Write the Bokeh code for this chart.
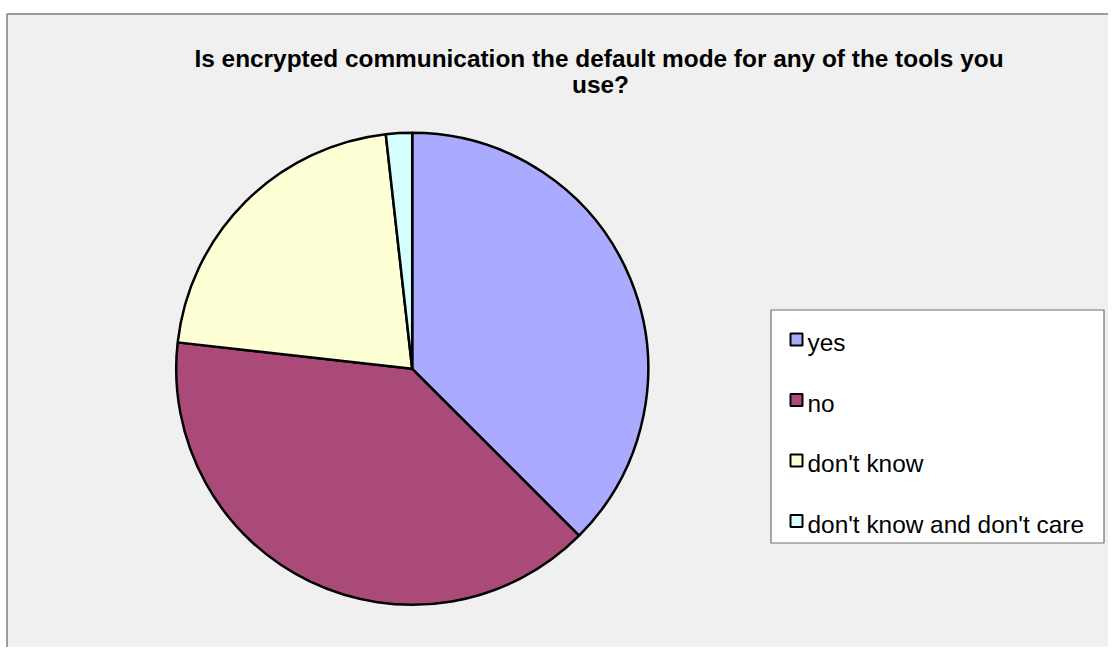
import numpy as np
from bokeh.plotting import figure
from bokeh.models import Range1d, ColumnDataSource
from bokeh.core.properties import value
from bokeh.embed import file_html
from bokeh.resources import INLINE

# ---- data ----
categories = ["yes", "no", "don't know", "don't know and don't care"]
counts = [21, 22, 12, 1]
colors = ["#aaaaff", "#a94a78", "#ffffd5", "#d5ffff"]
title_lines = ["Is encrypted communication the default mode for any of the tools you", "use?"]

# ---- layout (screenshot pixel coordinates) ----
W, H = 1108, 647
def Y(py):
    return H - py

TXT_DY = 9  # text baseline correction

p = figure(width=W, height=H, x_range=Range1d(0, W), y_range=Range1d(0, H),
           output_backend="svg", toolbar_location=None, min_border=0,
           x_axis_location=None, y_axis_location=None)
p.grid.visible = False
p.outline_line_color = None
p.border_fill_color = "white"
p.background_fill_color = "white"

# chart area
p.quad(left=[6.5], right=[1115], top=[Y(13.5)], bottom=[Y(720)],
       fill_color="#f0f0f0", line_color="#7f7f7f", line_width=1.5)

# pie
vals = np.array(counts, dtype=float)
frac = vals / vals.sum()
cum = np.concatenate([[0], np.cumsum(frac)])
start = np.pi / 2 - 2 * np.pi * cum[:-1]
end = np.pi / 2 - 2 * np.pi * cum[1:]
src = ColumnDataSource(dict(start=start, end=end, color=colors, cat=categories))
cx, cy, r = 411.7, Y(368.3), 236
p.wedge(x=cx, y=cy, radius=r, start_angle="start", end_angle="end", direction="clock",
        fill_color="color", line_color="black", line_width=2.5, source=src)

# legend
p.quad(left=[770.5], right=[1103.5], top=[Y(309.5)], bottom=[Y(542.5)],
       fill_color="white", line_color="#6e6e6e", line_width=1.2)
ly = [339 + 60.5 * i for i in range(len(categories))]
lsrc = ColumnDataSource(dict(x=[796] * len(categories), y=[Y(v) for v in ly],
                             ty=[Y(v + 12 - TXT_DY) for v in ly], tx=[807] * len(categories),
                             color=colors, cat=categories))
p.rect(x="x", y="y", width=12, height=12, fill_color="color", line_color="black",
       line_width=2, source=lsrc)
p.text(x="tx", y="ty", text="cat", text_font=value("Liberation Sans"), text_font_size="24.4px",
       text_baseline="alphabetic", text_align="left", text_color="black", source=lsrc)

# title
tsrc = ColumnDataSource(dict(x=[598.5, 600], y=[Y(66.7 - TXT_DY), Y(93 - TXT_DY)], t=title_lines))
p.text(x="x", y="y", text="t", text_font=value("Liberation Sans"), text_font_size="24.4px",
       text_font_style="bold", text_baseline="alphabetic", text_align="center",
       text_color="black", source=tsrc)

open("out.html", "w").write(file_html(p, INLINE))
